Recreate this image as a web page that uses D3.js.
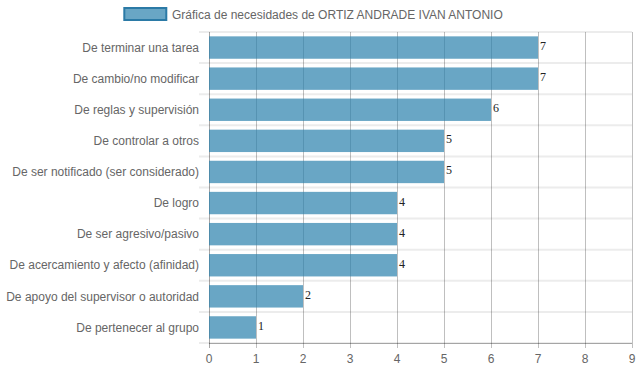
<!DOCTYPE html>
<html><head><meta charset="utf-8">
<script src="https://cdn.jsdelivr.net/npm/d3@7"></script>
<style>body{margin:0;background:#fff}svg{display:block}</style>
</head><body><svg id="c" width="639" height="372"></svg>
<script>
const categories = ["De terminar una tarea","De cambio/no modificar","De reglas y supervisión","De controlar a otros","De ser notificado (ser considerado)","De logro","De ser agresivo/pasivo","De acercamiento y afecto (afinidad)","De apoyo del supervisor o autoridad","De pertenecer al grupo"];
const values = [7,7,6,5,5,4,4,4,2,1];
const xTicks = [0,1,2,3,4,5,6,7,8,9];
const seriesName = "Gráfica de necesidades de ORTIZ ANDRADE IVAN ANTONIO";

const svg = d3.select("#c");
const font = "'Liberation Sans', Arial, sans-serif";
const x = d3.scaleLinear().domain([0,9]).range([209,632]);
const y = d3.scaleBand().domain(categories).range([32,343]);
const barH = y.bandwidth()*0.72;

// horizontal grid (category boundaries)
const hLines = d3.range(categories.length+1).map(i => 32 + i*y.step());
svg.append("g").selectAll("line").data(hLines).join("line")
  .attr("x1",199).attr("x2",632).attr("y1",d=>d).attr("y2",d=>d)
  .attr("stroke","#ececec").attr("stroke-width",2);

// vertical grid
svg.append("g").selectAll("line").data(xTicks).join("line")
  .attr("x1",d=>x(d)+0.5).attr("x2",d=>x(d)+0.5).attr("y1",32).attr("y2",348)
  .attr("stroke", d=> d===0 ? "rgba(0,0,0,0.35)" : "rgba(0,0,0,0.25)").attr("stroke-width",1);
// x axis base line
svg.append("line").attr("x1",209).attr("x2",632).attr("y1",343.5).attr("y2",343.5)
  .attr("stroke","rgba(0,0,0,0.3)");

// bars
svg.append("g").selectAll("rect").data(categories).join("rect")
  .attr("x",x(0)).attr("y",(d)=>y(d)+(y.bandwidth()-barH)/2)
  .attr("width",(d,i)=>x(values[i])-x(0)).attr("height",barH)
  .attr("fill","rgba(42,128,172,0.7)");

// value labels
svg.append("g").selectAll("text").data(categories).join("text")
  .attr("x",(d,i)=>x(values[i])+2).attr("y",d=>y(d)+y.bandwidth()/2+2.5)
  .attr("font-family","'Liberation Serif','Times New Roman',serif").attr("font-size",12)
  .attr("fill","#222").text((d,i)=>values[i]);

// category labels
svg.append("g").selectAll("text").data(categories).join("text")
  .attr("x",199).attr("y",d=>y(d)+y.bandwidth()/2+4.2)
  .attr("text-anchor","end").attr("font-family",font).attr("font-size",12)
  .attr("fill","#666").text(d=>d);

// x tick labels
svg.append("g").selectAll("text").data(xTicks).join("text")
  .attr("x",d=>x(d)).attr("y",363)
  .attr("text-anchor","middle").attr("font-family",font).attr("font-size",12)
  .attr("fill","#666").text(d=>d);

// legend
svg.append("rect").attr("x",124.3).attr("y",8).attr("width",42).attr("height",12)
  .attr("fill","rgba(42,128,172,0.7)").attr("stroke","#2b7aa6").attr("stroke-width",2);
svg.append("text").attr("x",172).attr("y",18.5).attr("font-family",font).attr("font-size",12)
  .attr("fill","#666").text(seriesName);
</script></body></html>
